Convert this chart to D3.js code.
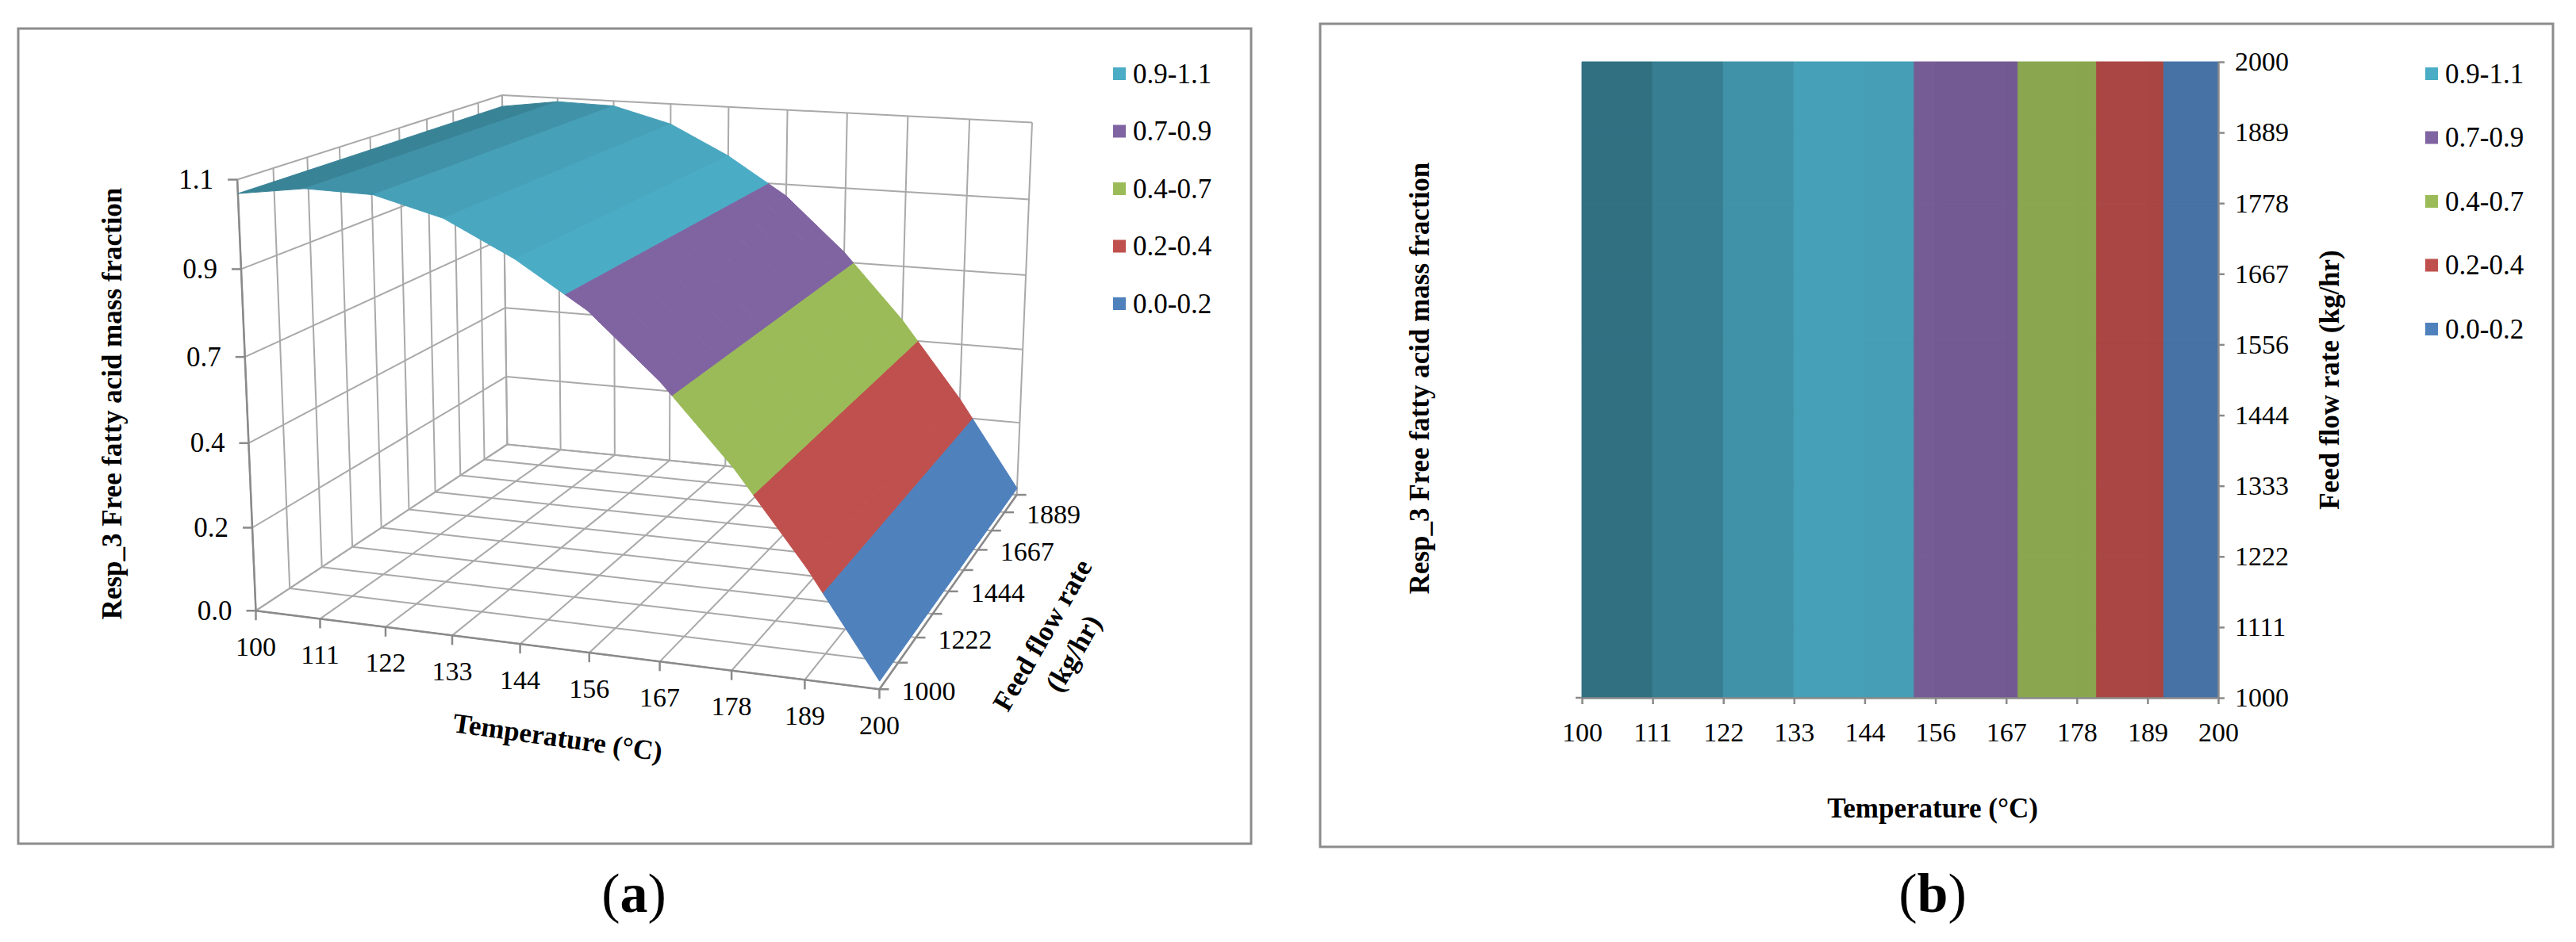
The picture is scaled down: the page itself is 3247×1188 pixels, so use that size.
<!DOCTYPE html>
<html><head><meta charset="utf-8">
<script src="https://cdn.jsdelivr.net/npm/d3@7"></script>
<style>
html,body{margin:0;padding:0;background:#fff;}
svg{display:block;}
text{font-family:"Liberation Serif","Times New Roman",serif;fill:#000;}
</style></head><body>
<svg id="chart" width="3247" height="1188"></svg>
<script>
// ---------------- data ----------------
const temperatures = [100, 111.11, 122.22, 133.33, 144.44, 155.56, 166.67, 177.78, 188.89, 200];
const temperatureLabels = ["100","111","122","133","144","156","167","178","189","200"];
const feedRates = [1000, 1111.1, 1222.2, 1333.3, 1444.4, 1555.6, 1666.7, 1777.8, 1888.9, 2000];
const feedLabels = ["1000","1111","1222","1333","1444","1556","1667","1778","1889","2000"];
// Resp_3 free fatty acid mass fraction vs temperature (identical for every feed rate)
const ffaFraction = [1.066, 1.089, 1.085, 1.040, 0.955, 0.846, 0.690, 0.500, 0.276, 0.020];
const zTicks = [0, 0.22, 0.44, 0.66, 0.88, 1.1];
const zTickLabels = ["0.0","0.2","0.4","0.7","0.9","1.1"];
const feed3DLabels = ["1000","","1222","","1444","","1667","","1889",""];
const bandEdges = [0, 0.22, 0.44, 0.66, 0.88, 1.1];
const bandLabels = ["0.0-0.2","0.2-0.4","0.4-0.7","0.7-0.9","0.9-1.1"];
const bandColors = ["#4f81bd","#c0504d","#9bbb59","#8064a2","#4bacc6"];
const titleZ = "Resp_3 Free fatty acid mass fraction";
const titleT = "Temperature (°C)";
const titleF = "Feed flow rate (kg/hr)";

const grid = feedRates.map(() => ffaFraction.slice());

// ---------------- helpers ----------------
const svg = d3.select("#chart");
const GRID = "#a9a9a9", AXIS = "#8a8a8a";

function clip(poly, th, sign) {
  const out = [];
  for (let k = 0; k < poly.length; k++) {
    const a = poly[k], b = poly[(k + 1) % poly.length];
    const da = sign * (a.v - th), db = sign * (b.v - th);
    if (da >= 0) out.push(a);
    if ((da >= 0) !== (db >= 0)) {
      const s = da / (da - db);
      out.push({t: a.t + s * (b.t - a.t), f: a.f + s * (b.f - a.f), v: a.v + s * (b.v - a.v)});
    }
  }
  return out;
}
function buildCells() {
  const cells = [];
  for (let j = feedRates.length - 2; j >= 0; j--) {
    for (let i = 0; i < temperatures.length - 1; i++) {
      const quad = [
        {t: i, f: j, v: grid[j][i]}, {t: i + 1, f: j, v: grid[j][i + 1]},
        {t: i + 1, f: j + 1, v: grid[j + 1][i + 1]}, {t: i, f: j + 1, v: grid[j + 1][i]}];
      const slope = ((grid[j][i + 1] - grid[j][i]) + (grid[j + 1][i + 1] - grid[j + 1][i])) / 2;
      for (let b = 0; b < bandColors.length; b++) {
        let poly = clip(quad, bandEdges[b], 1);
        if (poly.length) poly = clip(poly, bandEdges[b + 1], -1);
        if (poly.length >= 3) cells.push({poly, band: b, slope});
      }
    }
  }
  return cells;
}
const cells = buildCells();
function shaded(color, k) {
  const c = d3.rgb(color);
  return d3.rgb(c.r * k, c.g * k, c.b * k).formatHex();
}

// perspective camera fitted to the plot-box corners (t, f, z in 0..1 -> screen)
const boxAnchors = [
  [[0,0,0],[323,770]], [[1,0,0],[1108,870]], [[1,1,0],[1282,623]], [[0,1,0],[639,561]],
  [[0,0,1],[299,226]], [[0,1,1],[633,120]], [[1,1,1],[1301,155]]
];
function fitProjection(anchors) {
  const cx = 800, cy = 500, sc = 400;
  const rows = [], rhs = [];
  anchors.forEach(([[t,f,z],[U,V]]) => {
    const u = (U - cx) / sc, v = (V - cy) / sc;
    rows.push([t,f,z,1,0,0,0,0,-u*t,-u*f,-u*z]); rhs.push(u);
    rows.push([0,0,0,0,t,f,z,1,-v*t,-v*f,-v*z]); rhs.push(v);
  });
  const n = 11;
  const M = d3.range(n).map(() => new Array(n + 1).fill(0));
  rows.forEach((r, k) => {
    for (let i = 0; i < n; i++) {
      for (let j = 0; j < n; j++) M[i][j] += r[i] * r[j];
      M[i][n] += r[i] * rhs[k];
    }
  });
  for (let c = 0; c < n; c++) {
    let p = c;
    for (let r = c + 1; r < n; r++) if (Math.abs(M[r][c]) > Math.abs(M[p][c])) p = r;
    [M[c], M[p]] = [M[p], M[c]];
    for (let r = 0; r < n; r++) {
      if (r === c) continue;
      const fc = M[r][c] / M[c][c];
      for (let j = c; j <= n; j++) M[r][j] -= fc * M[c][j];
    }
  }
  const p = M.map((r, i) => r[n] / r[i]);
  return ([t,f,z]) => {
    const w = p[8]*t + p[9]*f + p[10]*z + 1;
    return [cx + sc * (p[0]*t + p[1]*f + p[2]*z + p[3]) / w,
            cy + sc * (p[4]*t + p[5]*f + p[6]*z + p[7]) / w];
  };
}

// ---------------- panel frames ----------------
[{x:23,y:36,w:1554,h:1028},{x:1664,y:30,w:1554,h:1038}].forEach(fr => {
  svg.append("rect").attr("x", fr.x).attr("y", fr.y).attr("width", fr.w).attr("height", fr.h)
    .attr("fill", "#fff").attr("stroke", "#8c8c8c").attr("stroke-width", 3);
});

// ================= Panel (a): 3D surface =================
const gA = svg.append("g");
const cam = fitProjection(boxAnchors);
const tN = d3.scaleLinear().domain([0, temperatures.length - 1]).range([0, 1]);
const fN = d3.scaleLinear().domain([0, feedRates.length - 1]).range([0, 1]);
const zN = d3.scaleLinear().domain([0, 1.1]).range([0, 1]);
const proj = (ti, fj, v) => cam([tN(ti), fN(fj), zN(v)]);
const nT = temperatures.length - 1, nF = feedRates.length - 1;

const segs = [];
d3.range(nT + 1).forEach(i => segs.push([proj(i, 0, 0), proj(i, nF, 0)]));          // floor, along feed
d3.range(nF + 1).forEach(j => segs.push([proj(0, j, 0), proj(nT, j, 0)]));          // floor, along temperature
d3.range(nF + 1).forEach(j => segs.push([proj(0, j, 0), proj(0, j, 1.1)]));         // left wall verticals
zTicks.forEach(z => segs.push([proj(0, 0, z), proj(0, nF, z)]));                    // left wall horizontals
d3.range(nT + 1).forEach(i => segs.push([proj(i, nF, 0), proj(i, nF, 1.1)]));       // back wall verticals
zTicks.forEach(z => segs.push([proj(0, nF, z), proj(nT, nF, z)]));                  // back wall horizontals
gA.append("g").selectAll("line").data(segs).join("line")
  .attr("x1", d => d[0][0]).attr("y1", d => d[0][1]).attr("x2", d => d[1][0]).attr("y2", d => d[1][1])
  .attr("stroke", GRID).attr("stroke-width", 2);

// axes lines
const axSegs = [
  [proj(0,0,0), proj(0,0,1.1)],
  [proj(0,0,0), proj(nT,0,0)],
  [proj(nT,0,0), proj(nT,nF,0)]
];
zTicks.forEach(z => { const p = proj(0,0,z); axSegs.push([[p[0]-12,p[1]], p]); });
d3.range(nT + 1).forEach(i => { const p = proj(i,0,0); axSegs.push([p, [p[0], p[1]+12]]); });
d3.range(nF + 1).forEach(j => { const p = proj(nT,j,0); axSegs.push([p, [p[0]+12, p[1]]]); });
gA.append("g").selectAll("line").data(axSegs).join("line")
  .attr("x1", d => d[0][0]).attr("y1", d => d[0][1]).attr("x2", d => d[1][0]).attr("y2", d => d[1][1])
  .attr("stroke", AXIS).attr("stroke-width", 2.5);

// surface
const shadeA = d3.scaleLinear().domain([-0.11, -0.085, -0.045, -0.004, 0.023]).range([1.0, 0.97, 0.93, 0.85, 0.76]).clamp(true);
const lineGen = d3.line();
gA.append("g").selectAll("path").data(cells).join("path")
  .attr("d", d => lineGen(d.poly.map(p => proj(p.t, p.f, p.v))) + "Z")
  .attr("fill", d => shaded(bandColors[d.band], shadeA(d.slope)))
  .attr("stroke", d => shaded(bandColors[d.band], shadeA(d.slope)))
  .attr("stroke-width", 1).attr("stroke-linejoin", "round");

// tick labels
gA.append("g").selectAll("text").data(zTicks).join("text")
  .attr("x", d => proj(0,0,d)[0] - 30).attr("y", d => proj(0,0,d)[1])
  .attr("text-anchor", "end").attr("dominant-baseline", "central")
  .style("font-size", "35px").text((d, i) => zTickLabels[i]);
gA.append("g").selectAll("text").data(temperatureLabels).join("text")
  .attr("x", (d, i) => proj(i,0,0)[0]).attr("y", (d, i) => proj(i,0,0)[1] + 45)
  .attr("text-anchor", "middle").attr("dominant-baseline", "central")
  .style("font-size", "34px").text(d => d);
gA.append("g").selectAll("text").data(feed3DLabels).join("text")
  .attr("x", (d, j) => proj(nT,j,0)[0] + 28).attr("y", (d, j) => proj(nT,j,0)[1] + 2)
  .attr("text-anchor", "start").attr("dominant-baseline", "central")
  .style("font-size", "34px").text(d => d);

// titles
gA.append("text").attr("transform", "translate(141,509) rotate(-90)")
  .attr("text-anchor", "middle").attr("dominant-baseline", "central")
  .style("font-size", "35px").style("font-weight", "bold").text(titleZ);
gA.append("text").attr("transform", "translate(703,930) rotate(8)")
  .attr("text-anchor", "middle").attr("dominant-baseline", "central")
  .style("font-size", "35px").style("font-weight", "bold").text(titleT);
const fParts = [titleF.replace(" (kg/hr)", ""), "(kg/hr)"];
[[1314, 801], [1353, 824]].forEach((c, k) => {
  gA.append("text").attr("transform", `translate(${c[0]},${c[1]}) rotate(-60)`)
    .attr("text-anchor", "middle").attr("dominant-baseline", "central")
    .style("font-size", "35px").style("font-weight", "bold").text(fParts[k]);
});

// legend
function legend(g, x, y0, step) {
  const items = bandLabels.map((l, i) => ({l, c: bandColors[i]})).reverse();
  const it = g.append("g").selectAll("g").data(items).join("g")
    .attr("transform", (d, i) => `translate(${x},${y0 + i * step})`);
  it.append("rect").attr("x", 0).attr("y", -8).attr("width", 16).attr("height", 16).attr("fill", d => d.c);
  it.append("text").attr("x", 25).attr("y", 0).attr("dominant-baseline", "central")
    .style("font-size", "35px").text(d => d.l);
}
legend(gA, 1403, 93, 72.5);

// caption
function caption(x, y, letter) {
  const t = svg.append("text").attr("x", x).attr("y", y).attr("text-anchor", "middle").style("font-size", "70px");
  t.append("tspan").text("(");
  t.append("tspan").style("font-weight", "bold").text(letter);
  t.append("tspan").text(")");
}
caption(799, 1150, "a");

// ================= Panel (b): top view =================
const gB = svg.append("g");
const xB = d3.scaleLinear().domain([100, 200]).range([1994, 2796]);
const yB = d3.scaleLinear().domain([1000, 2000]).range([880, 78]);
const tempAt = d3.scaleLinear().domain(d3.range(temperatures.length)).range(temperatures);
const feedAt = d3.scaleLinear().domain(d3.range(feedRates.length)).range(feedRates);
const shadeB = d3.scaleLinear().domain([-0.26, -0.156, -0.109, -0.085, -0.045, -0.004, 0.023])
  .range([0.88, 0.9, 0.92, 0.93, 0.85, 0.735, 0.65]).clamp(true);
gB.append("g").selectAll("path").data(cells).join("path")
  .attr("d", d => lineGen(d.poly.map(p => [xB(tempAt(p.t)), yB(feedAt(p.f))])) + "Z")
  .attr("fill", d => shaded(bandColors[d.band], shadeB(d.slope)))
  .attr("stroke", d => shaded(bandColors[d.band], shadeB(d.slope)))
  .attr("stroke-width", 1);

const axB = gB.append("g").attr("transform", "translate(0,880)")
  .call(d3.axisBottom(xB).tickValues(temperatures).tickFormat((d, i) => temperatureLabels[i])
    .tickSize(8).tickSizeOuter(0).tickPadding(23));
const axR = gB.append("g").attr("transform", "translate(2796,0)")
  .call(d3.axisRight(yB).tickValues(feedRates).tickFormat((d, i) => feedLabels[i])
    .tickSize(8).tickSizeOuter(0).tickPadding(13));
[axB, axR].forEach(a => {
  a.select(".domain").attr("stroke", AXIS).attr("stroke-width", 2.5);
  a.selectAll(".tick line").attr("stroke", AXIS).attr("stroke-width", 2.5);
  a.selectAll(".tick text").style("font-size", "34px").style("font-family", "'Liberation Serif','Times New Roman',serif").attr("fill", "#000");
});
gB.append("line").attr("x1", 1986).attr("x2", 1994).attr("y1", 880).attr("y2", 880)
  .attr("stroke", AXIS).attr("stroke-width", 2.5);

gB.append("text").attr("transform", "translate(1789,477) rotate(-90)")
  .attr("text-anchor", "middle").attr("dominant-baseline", "central")
  .style("font-size", "35px").style("font-weight", "bold").text(titleZ);
gB.append("text").attr("transform", "translate(2936,479) rotate(-90)")
  .attr("text-anchor", "middle").attr("dominant-baseline", "central")
  .style("font-size", "35px").style("font-weight", "bold").text(titleF);
gB.append("text").attr("x", 2436).attr("y", 1019)
  .attr("text-anchor", "middle").attr("dominant-baseline", "central")
  .style("font-size", "35px").style("font-weight", "bold").text(titleT);

legend(gB, 3057, 93, 80.5);
caption(2436, 1150, "b");
</script>
</body></html>
